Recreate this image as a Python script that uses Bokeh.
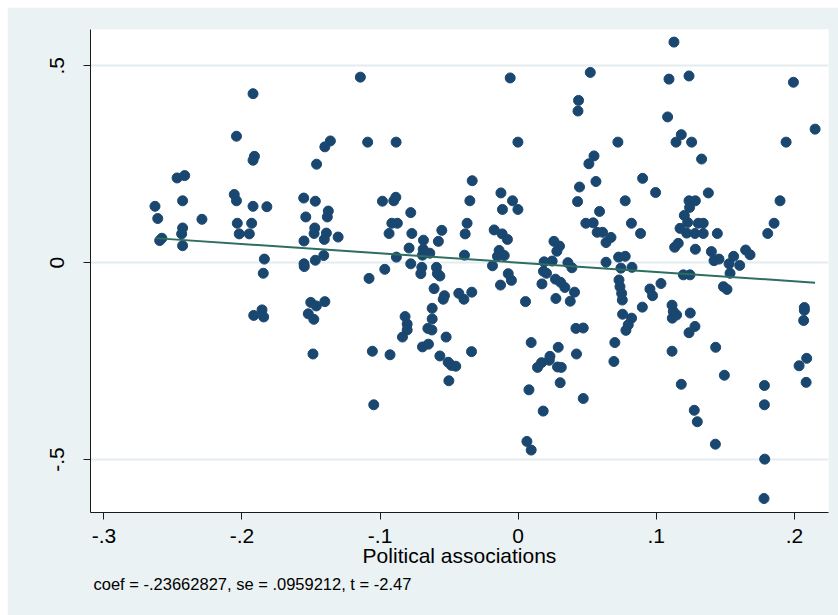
from bokeh.plotting import figure
from bokeh.models import FixedTicker, Title, Spacer
from bokeh.layouts import column, row
from bokeh.embed import file_html
from bokeh.resources import INLINE

# Residuals of political associations (x) and outcome (y)
pol_assoc_resid = [
    -0.192, -0.204, -0.191, -0.192, -0.247, -0.2415, -0.263, -0.243, -0.2056, -0.204,
    -0.192, -0.182, -0.261, -0.229, -0.243, -0.2437, -0.2034, -0.193, -0.202, -0.1947,
    -0.258, -0.2596, -0.243, -0.1838, -0.1846, -0.1855, -0.1915, -0.1843, -0.1143, -0.136,
    -0.140, -0.146, -0.109, -0.0884, -0.1553, -0.1469, -0.1375, -0.1382, -0.1538, -0.1473,
    -0.1478, -0.1389, -0.1404, -0.1304, -0.1551, -0.1408, -0.1469, -0.1551, -0.1549, -0.0983,
    -0.0901, -0.0886, -0.0778, -0.0915, -0.0875, -0.0935, -0.0770, -0.0553, -0.0686, -0.0578,
    -0.079, -0.0688, -0.0679, -0.064, -0.0693, -0.0882, -0.0778, -0.0966, -0.108, -0.0698,
    -0.0705, -0.0592, -0.0585, -0.1502, -0.1462, -0.140, -0.152, -0.148, -0.1486, -0.1056,
    -0.0928, -0.1046, -0.0819, -0.0804, -0.0804, -0.0838, -0.0567, -0.0609, -0.0534, -0.0543,
    -0.0623, -0.0623, -0.0654, -0.0625, -0.0693, -0.065, -0.0522, -0.0567, -0.0507, -0.0483,
    -0.0502, -0.0049, -0.0128, -0.043, -0.0393, -0.0336, -0.0452, -0.0338, 0.0053, 0.0172,
    0.027, 0.0307, 0.0338, 0.0408, 0.0273, 0.0377, 0.0094, 0.029, 0.023, 0.0225,
    0.0169, 0.014, 0.0285, 0.0312, 0.0422, 0.0418, 0.0471, 0.0304, 0.0078, 0.0181,
    0.0471, 0.0063, 0.0094, 0.073, 0.0737, 0.0749, 0.0754, 0.0756, 0.0821, 0.078,
    0.070, 0.0693, 0.0797, 0.0954, 0.0973, 0.1034, 0.0899, 0.1486, 0.1512, 0.1114,
    0.1123, 0.1116, 0.1147, 0.1246, 0.128, 0.1237, 0.1114, 0.143, 0.1181, 0.1493,
    0.1275, 0.1297, 0.1428, 0.1783, 0.1783, 0.1785, 0.178, 0.2072, 0.2072, 0.2067,
    0.2089, 0.2034, 0.2085, -0.0058, 0.0522, 0.0437, 0.0433, -0.0002, 0.0722, 0.0549,
    0.0512, 0.0563, -0.0333, -0.035, -0.0125, -0.0041, -0.0002, -0.0114, 0.0444, 0.043,
    0.0775, 0.0589, 0.049, 0.0543, 0.082, -0.037, -0.0384, -0.0174, -0.0116, -0.0078,
    0.0572, 0.0611, 0.0672, 0.0636, 0.0259, 0.0299, 0.028, -0.0138, -0.0101, -0.015,
    -0.0389, -0.0186, -0.0072, 0.0188, 0.0246, 0.0183, 0.0205, 0.036, 0.0389, 0.0636,
    0.0727, 0.0775, 0.0744, 0.0824, 0.1128, 0.1092, 0.1237, 0.1993, 0.1082, 0.1181,
    0.1143, 0.1256, 0.194, 0.215, 0.1328, 0.0901, 0.0995, 0.1377, 0.1237, 0.1283,
    0.1241, 0.1203, 0.1227, 0.1172, 0.122, 0.128, 0.134, 0.1442, 0.1304, 0.134,
    0.0886, 0.1896, 0.1853, 0.1807, 0.1133, 0.1159, 0.1283, 0.1399, 0.1418, 0.1454,
    0.1527, 0.156, 0.1604, 0.1647, 0.1679, 0.1534, 0.1196, 0.1244,
]
outcome_resid = [
    0.429, 0.321, 0.270, 0.260, 0.215, 0.221, 0.143, 0.157, 0.173, 0.157,
    0.143, 0.142, 0.112, 0.110, 0.088, 0.073, 0.100, 0.100, 0.073, 0.073,
    0.062, 0.056, 0.043, 0.009, -0.027, -0.120, -0.134, -0.138, 0.471, 0.309,
    0.294, 0.250, 0.306, 0.306, 0.164, 0.156, 0.131, 0.116, 0.116, 0.088,
    0.074, 0.075, 0.059, 0.065, 0.055, 0.018, 0.006, -0.003, -0.010, 0.156,
    0.157, 0.166, 0.127, 0.100, 0.100, 0.074, 0.074, 0.082, 0.057, 0.054,
    0.037, 0.034, 0.025, 0.024, 0.019, 0.014, -0.003, -0.017, -0.040, -0.012,
    -0.028, -0.012, -0.028, -0.101, -0.110, -0.099, -0.130, -0.144, -0.232, -0.225,
    -0.234, -0.361, -0.137, -0.156, -0.171, -0.189, -0.034, -0.066, -0.084, -0.093,
    -0.116, -0.143, -0.167, -0.171, -0.214, -0.207, -0.189, -0.237, -0.253, -0.261,
    -0.300, -0.045, -0.057, -0.078, -0.093, -0.075, -0.263, -0.226, -0.099, -0.054,
    -0.042, -0.050, -0.063, -0.075, -0.091, -0.098, -0.203, -0.215, -0.238, -0.248,
    -0.254, -0.266, -0.265, -0.266, -0.232, -0.167, -0.166, -0.305, -0.323, -0.377,
    -0.345, -0.454, -0.476, -0.044, -0.061, -0.078, -0.095, -0.131, -0.141, -0.172,
    -0.203, -0.251, -0.158, -0.067, -0.084, -0.053, -0.113, -0.061, -0.068, -0.108,
    -0.124, -0.141, -0.133, -0.128, -0.162, -0.178, -0.225, -0.215, -0.309, -0.286,
    -0.375, -0.404, -0.461, -0.312, -0.361, -0.499, -0.599, -0.114, -0.121, -0.147,
    -0.243, -0.262, -0.304, 0.469, 0.483, 0.412, 0.385, 0.306, 0.306, 0.271,
    0.251, 0.206, 0.208, 0.157, 0.177, 0.157, 0.135, 0.135, 0.192, 0.155,
    0.157, 0.130, 0.100, 0.101, 0.100, 0.100, 0.073, 0.083, 0.073, 0.059,
    0.077, 0.077, 0.064, 0.051, 0.054, 0.042, 0.029, 0.031, 0.018, 0.016,
    0.019, -0.008, -0.028, 0.002, 0.004, -0.022, -0.027, 0.000, -0.013, 0.001,
    0.014, 0.016, -0.014, -0.012, 0.560, 0.466, 0.474, 0.458, 0.370, 0.325,
    0.306, 0.306, 0.306, 0.339, 0.263, 0.214, 0.178, 0.177, 0.157, 0.157,
    0.140, 0.120, 0.102, 0.087, 0.075, 0.074, 0.074, 0.074, 0.100, 0.100,
    0.074, 0.157, 0.100, 0.074, 0.039, 0.049, 0.034, 0.028, 0.005, 0.009,
    -0.003, 0.016, -0.007, 0.032, 0.020, -0.027, -0.031, -0.031,
]

fit_coef = -0.23662827
fit_intercept = 0.0
note_text = "coef = -.23662827, se = .0959212, t = -2.47"
x_title = "Political associations"

x_ticks = [-0.3, -0.2, -0.1, 0.0, 0.1, 0.2]
x_tick_labels = ["-.3", "-.2", "-.1", "0", ".1", ".2"]
y_ticks = [-0.5, 0.0, 0.5]
y_tick_labels = ["-.5", "0", ".5"]

FONT = "Liberation Sans, Arial, Helvetica, sans-serif"
BG = "#EAF2F3"

p = figure(width=831, height=608, output_backend="svg", toolbar_location=None,
           x_range=(-0.3097, 0.2247), y_range=(-0.6345, 0.592),
           min_border_left=83, min_border_right=10, min_border_top=22, min_border_bottom=103)
p.border_fill_color = BG
p.background_fill_color = "white"
p.outline_line_color = None

p.xgrid.visible = False
p.ygrid.ticker = FixedTicker(ticks=y_ticks)
p.ygrid.grid_line_color = "#E3ECEF"
p.ygrid.grid_line_width = 2

for ax in (p.xaxis[0], p.yaxis[0]):
    ax.axis_line_color = "#1a1a1a"
    ax.major_tick_line_color = "#1a1a1a"
    ax.major_tick_out = 7
    ax.major_tick_in = 0
    ax.minor_tick_line_color = None
    ax.major_label_text_font = FONT
    ax.major_label_text_font_size = "21px"
    ax.major_label_text_color = "black"

p.xaxis.ticker = FixedTicker(ticks=x_ticks)
p.xaxis.major_label_overrides = {t: l for t, l in zip(x_ticks, x_tick_labels)}
p.xaxis.major_label_standoff = 9
p.xaxis.axis_label = x_title
p.xaxis.axis_label_text_font = FONT
p.xaxis.axis_label_text_font_size = "21px"
p.xaxis.axis_label_text_font_style = "normal"
p.xaxis.axis_label_text_color = "black"
p.xaxis.axis_label_standoff = -2

p.yaxis.ticker = FixedTicker(ticks=y_ticks)
p.yaxis.major_label_overrides = {t: l for t, l in zip(y_ticks, y_tick_labels)}
p.yaxis.major_label_orientation = "vertical"
p.yaxis.major_label_standoff = 19

p.scatter(pol_assoc_resid, outcome_resid, size=10, marker="circle",
          fill_color="#1A476F", line_color="#1A476F")

x_lo, x_hi = min(pol_assoc_resid), max(pol_assoc_resid)
p.line([x_lo, x_hi], [fit_intercept + fit_coef * x_lo, fit_intercept + fit_coef * x_hi],
       line_color="#2E6E60", line_width=2)

note = Title(text=note_text, align="left", offset=3, standoff=6,
             text_font=FONT, text_font_size="16.5px", text_color="black",
             text_font_style="normal")
p.add_layout(note, "below")

layout = column(Spacer(height=7), row(Spacer(width=7), p), spacing=0)
layout.styles = {"background-color": "white"}

open("out.html", "w").write(file_html(layout, INLINE))
